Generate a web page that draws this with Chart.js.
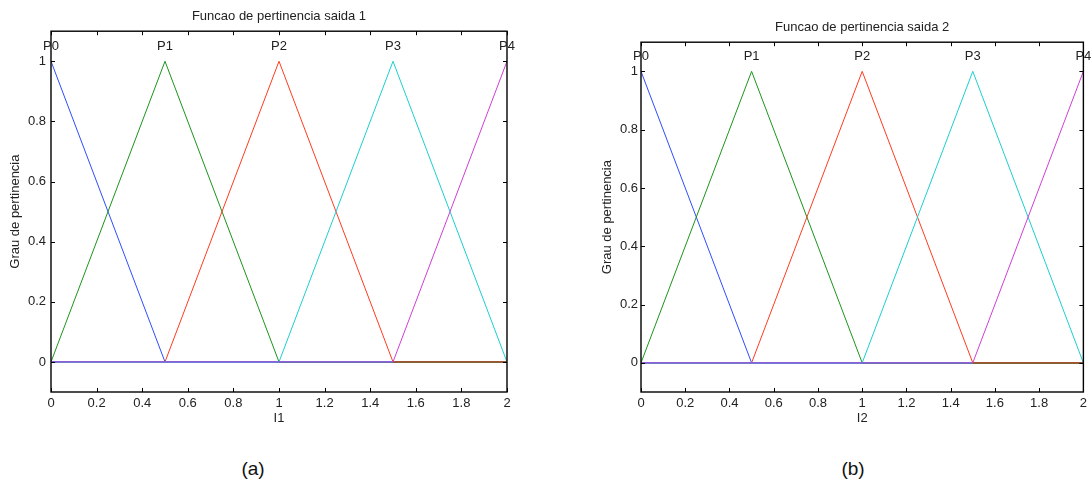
<!DOCTYPE html>
<html>
<head>
<meta charset="utf-8">
<script src="https://cdn.jsdelivr.net/npm/chart.js@4.4.0/dist/chart.umd.min.js"></script>
<style>
  body { margin: 0; background: #fff; }
  #page { position: relative; width: 1091px; height: 491px; overflow: hidden; background: #fff; }
  canvas { position: absolute; top: 0; }
  .cap { position: absolute; font-family: "Liberation Sans", Arial, sans-serif; font-size: 19px; color: #111; transform: translate(-50%, -50%); }
</style>
</head>
<body>
<div id="page">
  <canvas id="chartA" width="545" height="428" style="left:0px"></canvas>
  <canvas id="chartB" width="546" height="428" style="left:545px"></canvas>
  <div class="cap" style="left:253px; top:469px">(a)</div>
  <div class="cap" style="left:853px; top:469px">(b)</div>
</div>
<script>
// membership functions, sampled at the break points
var xValues = [0, 0.5, 1, 1.5, 2];
var p0 = [1, 0, 0, 0, 0];
var p1 = [0, 1, 0, 0, 0];
var p2 = [0, 0, 1, 0, 0];
var p3 = [0, 0, 0, 1, 0];
var p4 = [0, 0, 0, 0, 1];
var mfLabels = ["P0", "P1", "P2", "P3", "P4"];
var mfColors = ["#2e4dff", "#1c941c", "#ff3b1f", "#1ccfcf", "#cf3fd6"];
var zeroColors = [null, null, "#a3532f", null, "#8b62d6"];
var xTicks = [0, 0.2, 0.4, 0.6, 0.8, 1, 1.2, 1.4, 1.6, 1.8, 2];
var yTicks = [0, 0.2, 0.4, 0.6, 0.8, 1];

var FONT = "'Liberation Sans', Arial, sans-serif";
Chart.defaults.font.family = FONT;
Chart.defaults.color = "#222";

// matlab style box + inner tick marks + P labels over the peaks
var boxPlugin = {
  id: "box",
  afterDatasetsDraw: function (chart) {
    var ctx = chart.ctx;
    var a = chart.chartArea;
    var xs = chart.scales.x, ys = chart.scales.y;
    ctx.save();
    ctx.strokeStyle = "#000";
    ctx.lineWidth = 1;
    ctx.beginPath();
    xTicks.forEach(function (v) {
      var px = Math.round(xs.getPixelForValue(v)) + 0.5;
      ctx.moveTo(px, a.bottom); ctx.lineTo(px, a.bottom - 4);
      ctx.moveTo(px, a.top); ctx.lineTo(px, a.top + 4);
    });
    yTicks.forEach(function (v) {
      var py = Math.round(ys.getPixelForValue(v)) + 0.5;
      ctx.moveTo(a.left, py); ctx.lineTo(a.left + 4, py);
      ctx.moveTo(a.right, py); ctx.lineTo(a.right - 4, py);
    });
    ctx.stroke();
    ctx.lineWidth = 1.4;
    ctx.strokeRect(a.left, a.top, a.right - a.left, a.bottom - a.top);

    ctx.fillStyle = "#222";
    ctx.font = "13px " + FONT;
    ctx.textAlign = "center";
    ctx.textBaseline = "middle";
    mfLabels.forEach(function (t, i) {
      ctx.fillText(t, xs.getPixelForValue(xValues[i]), ys.getPixelForValue(1.05));
    });
    ctx.restore();
  }
};

function makeChart(id, title, xTitle, padLeft, titleTop) {
  var series = [p0, p1, p2, p3, p4];
  var datasets = series.map(function (vals, i) {
    return {
      label: mfLabels[i],
      data: xValues.map(function (x, k) { return { x: x, y: vals[k] }; }),
      borderColor: mfColors[i],
      borderWidth: 1,
      pointRadius: 0,
      tension: 0,
      order: 5 - i,
      segment: {
        borderColor: function (c) {
          if (zeroColors[i] && c.p0.parsed.y === 0 && c.p1.parsed.y === 0) return zeroColors[i];
          return undefined;
        },
        borderWidth: function (c) {
          if (c.p0.parsed.y === 0 && c.p1.parsed.y === 0) return 1.8;
          return undefined;
        }
      }
    };
  });

  return new Chart(document.getElementById(id), {
    type: "line",
    data: { datasets: datasets },
    options: {
      responsive: false,
      animation: false,
      layout: { padding: { left: padLeft, right: id === "chartA" ? 38 : 6, top: 0, bottom: 0 } },
      plugins: {
        legend: { display: false },
        tooltip: { enabled: false },
        title: {
          display: true,
          text: title,
          fullSize: false,
          color: "#222",
          font: { size: 13, weight: "normal" },
          padding: { top: titleTop, bottom: 7.4 }
        }
      },
      scales: {
        x: {
          type: "linear",
          min: 0,
          max: 2,
          afterBuildTicks: function (s) { s.ticks = xTicks.map(function (v) { return { value: v }; }); },
          afterFit: function (s) { s.height = 36; },
          ticks: { padding: 4, font: { size: 13 }, maxRotation: 0, callback: function (v) { return String(v); } },
          grid: { display: false, drawTicks: false },
          border: { display: false },
          title: { display: true, text: xTitle, font: { size: 13 }, padding: { top: 0, bottom: 2.2 } }
        },
        y: {
          type: "linear",
          min: -0.1,
          max: 1.1,
          afterBuildTicks: function (s) { s.ticks = yTicks.map(function (v) { return { value: v }; }); },
          afterFit: function (s) { s.width = id === "chartA" ? 51 : 49; },
          ticks: { padding: id === "chartA" ? 5 : 3, font: { size: 13 }, callback: function (v) { return String(v); } },
          grid: { display: false, drawTicks: false },
          border: { display: false },
          title: { display: true, text: "Grau de pertinencia", font: { size: 13 }, padding: { top: 8, bottom: 0 } }
        }
      }
    },
    plugins: [boxPlugin]
  });
}

makeChart("chartA", "Funcao de pertinencia saida 1", "I1", 0, 8.2);
makeChart("chartB", "Funcao de pertinencia saida 2", "I2", 47, 19.2);
</script>
</body>
</html>
